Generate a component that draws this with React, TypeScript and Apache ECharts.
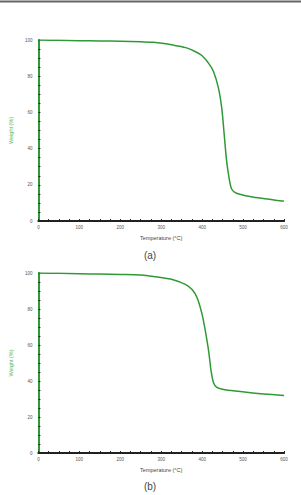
import React, { useEffect, useRef } from "react";
import * as echarts from "echarts";

const xTicks = [0, 100, 200, 300, 400, 500, 600];
const yTicks = [0, 20, 40, 60, 80, 100];

const tempA = [0, 50, 100, 150, 200, 250, 281, 329, 360, 384, 400, 416, 428, 440, 448, 454, 460, 466, 472, 484, 519, 559, 590, 600];
const weightA = [100, 99.8, 99.6, 99.5, 99.3, 99.0, 98.7, 97.2, 95.8, 93.5, 91.3, 87.1, 82.5, 73.3, 62.2, 47.5, 32.8, 23.6, 17.7, 15.3, 13.4, 12.2, 11.2, 11.0];

const tempB = [0, 50, 100, 150, 200, 250, 281, 329, 360, 376, 388, 400, 408, 416, 422, 428, 436, 456, 503, 551, 600];
const weightB = [100, 99.8, 99.6, 99.4, 99.2, 98.9, 98.1, 96.3, 93.5, 90.7, 86.1, 76.9, 67.6, 56.5, 45.4, 38.9, 36.5, 35.2, 33.9, 32.8, 32.0];

const panelLabels = ["(a)", "(b)"];
const xName = "Temperature (°C)";
const yName = "Weight (%)";

const GREEN = "#2f9a35";
const FONT = "Liberation Sans, Arial, sans-serif";

export default function App() {
  const ref = useRef<HTMLDivElement>(null);
  useEffect(() => {
    if (!ref.current) return;
    const chart = echarts.init(ref.current, undefined, { renderer: "svg" });
    const grids = [
      { left: 32, top: 40, width: 252, height: 181 },
      { left: 32, top: 273, width: 252, height: 180 },
    ];
    const xAxes: any[] = [];
    const yAxes: any[] = [];
    grids.forEach((_, i) => {
      xAxes.push({
        type: "value",
        gridIndex: i,
        min: xTicks[0],
        max: xTicks[xTicks.length - 1],
        interval: 100,
        name: xName,
        nameLocation: "middle",
        nameGap: 14,
        nameTextStyle: { fontSize: 5.5, color: "#444", fontFamily: FONT },
        axisLine: { lineStyle: { color: "#222", width: 2 } },
        axisTick: { inside: true, length: 2, lineStyle: { color: "#222" } },
        minorTick: { show: true, splitNumber: 4, length: 2, lineStyle: { color: "#222" } },
        axisLabel: { fontSize: 4.5, color: "#555", margin: 4, fontFamily: FONT },
        splitLine: { show: false },
      });
      xAxes.push({
        type: "value",
        gridIndex: i,
        position: "top",
        min: 0,
        max: 600,
        axisLine: { lineStyle: { color: "#222", width: 1.5 } },
        axisTick: { show: false },
        axisLabel: { show: false },
        splitLine: { show: false },
      });
      yAxes.push({
        type: "value",
        gridIndex: i,
        min: yTicks[0],
        max: yTicks[yTicks.length - 1],
        interval: 20,
        name: yName,
        nameLocation: "middle",
        nameGap: 18,
        nameTextStyle: { fontSize: 5.5, color: "#5cb85c", fontFamily: FONT },
        axisLine: { lineStyle: { color: GREEN, width: 2 } },
        axisTick: { inside: true, length: 2, lineStyle: { color: "#222" } },
        minorTick: { show: true, splitNumber: 4, length: 2, lineStyle: { color: "#222" } },
        axisLabel: { fontSize: 4.5, color: "#555", margin: 6, fontFamily: FONT },
        splitLine: { show: false },
      });
      yAxes.push({
        type: "value",
        gridIndex: i,
        position: "right",
        min: 0,
        max: 100,
        axisLine: { lineStyle: { color: GREEN, width: 1.5 } },
        axisTick: { show: false },
        axisLabel: { show: false },
        splitLine: { show: false },
      });
    });
    const makeData = (t: number[], w: number[]) => t.map((x, k) => [x, w[k]]);
    chart.setOption({
      animation: false,
      backgroundColor: "#fff",
      grid: grids,
      xAxis: xAxes,
      yAxis: yAxes,
      series: [
        {
          type: "line",
          xAxisIndex: 0,
          yAxisIndex: 0,
          data: makeData(tempA, weightA),
          smooth: 0.3,
          showSymbol: false,
          lineStyle: { color: GREEN, width: 1.5 },
          z: 1,
        },
        {
          type: "line",
          xAxisIndex: 2,
          yAxisIndex: 2,
          data: makeData(tempB, weightB),
          smooth: 0.3,
          showSymbol: false,
          lineStyle: { color: GREEN, width: 1.5 },
          z: 1,
        },
      ],
      graphic: [
        {
          type: "line",
          shape: { x1: 0, y1: 1.5, x2: 301, y2: 1.5 },
          style: { stroke: "#666", lineWidth: 2 },
        },
        {
          type: "text",
          x: 150,
          y: 255,
          style: { text: panelLabels[0], fontSize: 10, fill: "#444", fontFamily: FONT, align: "center", verticalAlign: "middle" },
        },
        {
          type: "text",
          x: 150,
          y: 486,
          style: { text: panelLabels[1], fontSize: 10, fill: "#444", fontFamily: FONT, align: "center", verticalAlign: "middle" },
        },
      ],
    });
    return () => chart.dispose();
  }, []);
  return (
    <div
      ref={ref}
      style={{ position: "fixed", left: 0, top: 0, width: 301, height: 495 }}
    />
  );
}
